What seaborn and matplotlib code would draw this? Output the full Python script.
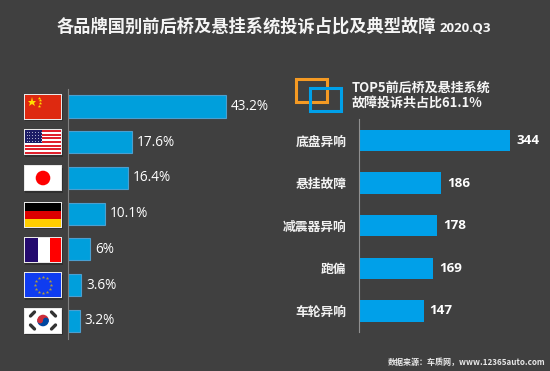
import matplotlib
matplotlib.use("Agg")
import matplotlib.pyplot as plt
from matplotlib.patches import Rectangle, Circle, Wedge
import seaborn as sns

brands = ["中国", "美国", "日本", "德国", "法国", "欧洲", "韩国"]
brand_share = [43.2, 17.6, 16.4, 10.1, 6, 3.6, 3.2]
share_labels = ["43.2%", "17.6%", "16.4%", "10.1%", "6%", "3.6%", "3.2%"]

faults = ["底盘异响", "悬挂故障", "减震器异响", "跑偏", "车轮异响"]
fault_counts = [344, 186, 178, 169, 147]

BG = "#404040"
BLUE = "#009fdc"
W, H = 550, 371
CJK = ["Noto Sans CJK SC", "DejaVu Sans"]

sns.set_theme(style="dark", rc={"figure.facecolor": BG, "axes.facecolor": BG})
plt.rcParams["font.family"] = CJK

fig = plt.figure(figsize=(5.5, 3.71), dpi=100)


def px_axes(x0, y0, x1, y1, **kw):
    # axes placed by pixel box, y measured from the top
    return fig.add_axes([x0 / W, 1 - y1 / H, (x1 - x0) / W, (y1 - y0) / H], **kw)


# -----------------------------
# left chart: brand countries
# -----------------------------
ax1 = px_axes(68, 88.7, 268, 338.7)
ax1.set_facecolor("none")
sns.barplot(x=brand_share, y=brands, ax=ax1, color=BLUE, saturation=1, width=0.62,
            edgecolor="#4b9fd0", linewidth=0.8)
ax1.set_xlim(0, 200 / 3.646)
ax1.bar_label(ax1.containers[0], labels=share_labels, padding=3.6, color="white",
              fontsize=9.8, family="Open Sans")
ax1.set_xticks([])
ax1.set_yticks([])
ax1.set(xlabel="", ylabel="")
sns.despine(ax=ax1, top=True, right=True, bottom=True)
ax1.spines["left"].set_color("#808080")
ax1.spines["left"].set_linewidth(0.8)

# -----------------------------
# right chart: top 5 faults
# -----------------------------
ax2 = px_axes(359, 119.2, 545, 332.2)
ax2.set_facecolor("none")
sns.barplot(x=fault_counts, y=faults, ax=ax2, color="#00a0e9", saturation=1, width=0.5,
            edgecolor="none", linewidth=0)
ax2.set_xlim(0, 186 / 0.4404)
ax2.bar_label(ax2.containers[0], padding=4.3, color="white", fontsize=9.6,
              fontweight="bold", family="Open Sans")
ax2.set_xticks([])
ax2.tick_params(axis="y", length=0, pad=9, labelcolor="#f2f2f2", labelsize=9.2)
for lab in ax2.get_yticklabels():
    lab.set_fontweight("bold")
ax2.set(xlabel="", ylabel="")
sns.despine(ax=ax2, top=True, right=True, bottom=True)
ax2.spines["left"].set_color("#909090")
ax2.spines["left"].set_linewidth(0.8)

# -----------------------------
# overlay in pixels: flags, icon, text
# -----------------------------
ov = fig.add_axes([0, 0, 1, 1])
ov.set_xlim(0, W)
ov.set_ylim(H, 0)
ov.axis("off")
ov.patch.set_alpha(0)
ov.set_zorder(5)


def rect(x, y, w, h, c, **kw):
    ov.add_patch(Rectangle((x, y), w, h, facecolor=c, edgecolor="none", **kw))


def flag_base(cy, c="white"):
    rect(25, cy - 10.5, 38, 25, "#303030")
    rect(24, cy - 13, 38, 26, "#e8e8e8")
    rect(25, cy - 12, 36, 24, c)
    return 25, cy - 12


def china(cy):
    x, y = flag_base(cy, "#de2910")
    ov.plot(x + 7, y + 7, marker="*", ms=6.5, color="#ffde00", mew=0)
    for dx, dy in [(13.5, 3), (15, 5.5), (15, 8.5), (13.5, 11)]:
        ov.plot(x + dx, y + dy, marker="*", ms=2.5, color="#ffde00", mew=0)


def usa(cy):
    x, y = flag_base(cy)
    for i in range(7):
        rect(x, y + i * 24 / 6.5, 36, 24 / 13, "#e0202c")
    rect(x, y, 17, 13, "#1c1c66")
    for i in range(6):
        for j in range(4):
            ov.plot(x + 1.5 + i * 2.8, y + 2 + j * 3, marker=".", ms=1.5, color="#c8c8e0", mew=0)


def japan(cy):
    x, y = flag_base(cy)
    ov.add_patch(Circle((x + 18, y + 12), 7.3, color="#fe0000", lw=0))


def germany(cy):
    x, y = flag_base(cy)
    rect(x, y, 36, 8, "black")
    rect(x, y + 8, 36, 8, "#dd0000")
    rect(x, y + 16, 36, 8, "#ffce00")


def france(cy):
    x, y = flag_base(cy)
    rect(x, y, 12.5, 24, "#240a6e")
    rect(x + 24.5, y, 11.5, 24, "#ff0000")


def europe(cy):
    x, y = flag_base(cy, "#0f3cf0")
    # twelve stars, listed by hand around the circle
    for dx, dy in [(0, -8), (4, -7), (7, -4), (8, 0), (7, 4), (4, 7),
                   (0, 8), (-4, 7), (-7, 4), (-8, 0), (-7, -4), (-4, -7)]:
        ov.plot(x + 18 + dx, y + 12 + dy, marker="*", ms=2.6, color="#b09a40", mew=0)


def korea(cy):
    x, y = flag_base(cy)
    cx, cc = x + 18, y + 12
    ov.add_patch(Wedge((cx, cc), 5.8, 180, 360, color="#cd2e3a", lw=0))
    ov.add_patch(Wedge((cx, cc), 5.8, 0, 180, color="#0047a0", lw=0))
    ov.add_patch(Circle((cx - 2.9, cc), 2.9, color="#cd2e3a", lw=0))
    ov.add_patch(Circle((cx + 2.9, cc), 2.9, color="#0047a0", lw=0))
    for dx, dy, s in [(-10.5, -6.5, 1), (10.5, -6.5, -1), (-10.5, 6.5, -1), (10.5, 6.5, 1)]:
        ov.plot([cx + dx - 2, cx + dx + 2], [cc + dy + s * 2, cc + dy - s * 2], color="#333333", lw=2.4)


flag_funcs = [china, usa, japan, germany, france, europe, korea]
flag_centres = [106.5, 142, 178, 214.5, 250, 285, 320.5]
for fn, cy in zip(flag_funcs, flag_centres):
    fn(cy)

# two overlapping frames next to the subtitle
ov.add_patch(Rectangle((296, 79), 31, 23, fill=False, edgecolor="#f59a23", lw=2.2))
ov.add_patch(Rectangle((310, 88), 31, 23, fill=False, edgecolor="#00a0e9", lw=2.2))

ov.text(57, 27, "各品牌国别前后桥及悬挂系统投诉占比及典型故障", color="#f5f5f5", fontsize=12.4,
        fontweight="bold", va="center", ha="left")
ov.text(440, 28, "2020.Q3", color="#f5f5f5", fontsize=9.5, fontweight="bold", va="center",
        ha="left", family="Open Sans")
ov.text(352, 88, "TOP5前后桥及悬挂系统", color="#f5f5f5", fontsize=9.4, fontweight="bold",
        va="center", ha="left")
ov.text(352, 103, "故障投诉共占比61.1%", color="#f5f5f5", fontsize=9.4, fontweight="bold",
        va="center", ha="left")
ov.text(388, 362, "数据来源：车质网，www.12365auto.com", color="#e8e8e8", fontsize=5.8,
        fontweight="bold", va="center", ha="left")

fig.savefig("out.png", dpi=100, facecolor=BG)
